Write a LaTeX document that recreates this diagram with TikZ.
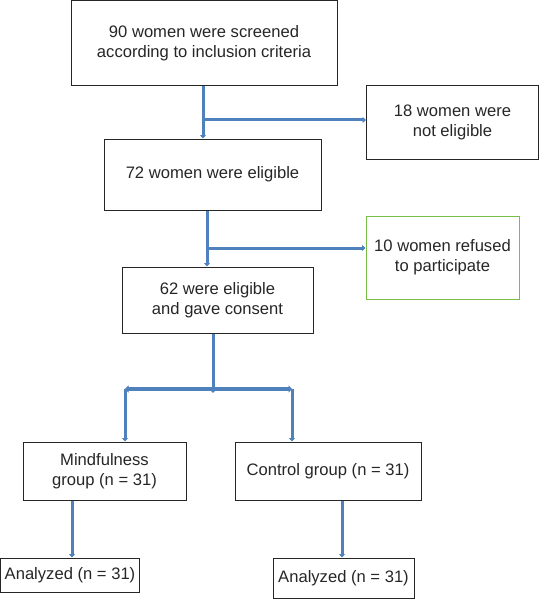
\documentclass[tikz,border=0pt]{standalone}
\usepackage{fontspec}
\setmainfont{Liberation Sans}
\usetikzlibrary{arrows.meta}
\definecolor{flowblue}{RGB}{79,129,189}
\definecolor{boxgreen}{RGB}{122,190,72}

\begin{document}
\begin{tikzpicture}[x=1pt, y=-1pt]
\tikzstyle{every node}=[font=\fontsize{16.6}{20}\selectfont, align=center, text=black!85]
\tikzstyle{box}=[draw=black!85, line width=1pt, inner sep=0pt]
\tikzstyle{flow}=[draw=flowblue, line width=3pt, -{Triangle[width=6pt, length=3.5pt]}]

\useasboundingbox (0, 0) rectangle (540, 599);

\node[box, minimum width=266, minimum height=85] (screen) at (204, 43.5) {90 women were screened\\according to inclusion criteria};
\node[box, minimum width=172, minimum height=73] (noteli) at (452.5, 122.5) {18 women were\\not eligible};
\node[box, minimum width=217, minimum height=71] (eligible) at (212.5, 174.5) {72 women were eligible};
\node[box, draw=boxgreen, minimum width=153, minimum height=83] (refused) at (442.5, 257.5) {10 women refused\\to participate};
\node[box, minimum width=191, minimum height=66] (consent) at (217.5, 300) {62 were eligible\\and gave consent};
\node[box, minimum width=163, minimum height=58] (mind) at (104.5, 471) {Mindfulness\\group (n = 31)};
\node[box, minimum width=186, minimum height=58] (ctrl) at (328, 471) {Control group (n = 31)};
\node[box, minimum width=139, minimum height=34] (anamind) at (70, 575) {Analyzed (n = 31)};
\node[box, minimum width=141, minimum height=40] (anactrl) at (343.5, 578) {Analyzed (n = 31)};

% branch points
\coordinate (j1) at (203, 120);
\coordinate (j2) at (207, 248);
\coordinate (j3) at (213, 389);
\coordinate (jl) at (125, 389);
\coordinate (jr) at (292, 389);

\draw[flow] (j1 |- screen.south) -- (j1 |- eligible.north);
\draw[flow] (j1) -- (j1 -| noteli.west);

\draw[flow] (j2 |- eligible.south) -- (j2 |- consent.north);
\draw[flow] (j2) -- (j2 -| refused.west);

\draw[flow] (j3 |- consent.south) -- ([yshift=-4]j3); % split
\draw[flow, line width=4pt, {Triangle[width=7pt, length=3.5pt]}-{Triangle[width=7pt, length=3.5pt]}] (jl) -- (jr);
\draw[flow] (jl) -- (jl |- mind.north);
\draw[flow] (jr) -- (jr |- ctrl.north);

\draw[flow] ([xshift=2]anamind.north |- mind.south) -- ([xshift=2]anamind.north);
\draw[flow] ([xshift=-1.5]anactrl.north |- ctrl.south) -- ([xshift=-1.5]anactrl.north);

\end{tikzpicture}
\end{document}
